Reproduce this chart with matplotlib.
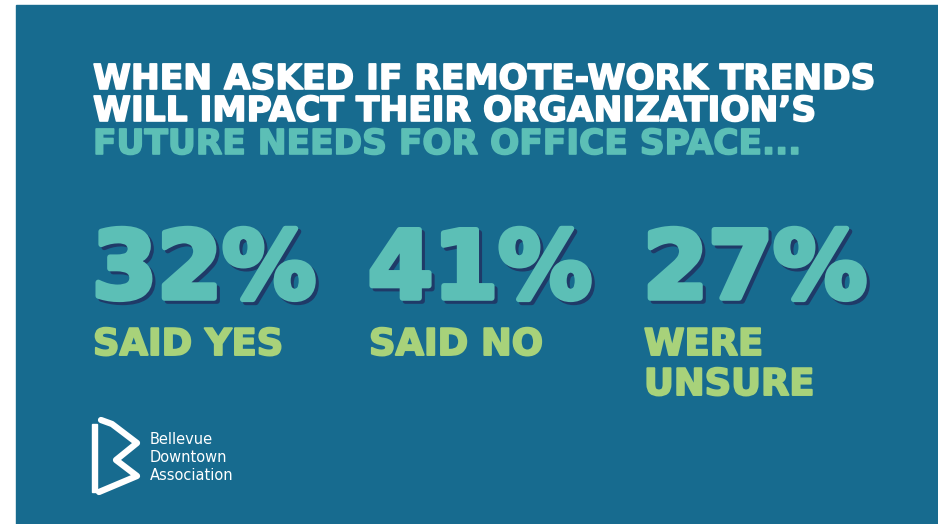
import matplotlib.pyplot as plt
import matplotlib.patheffects as pe
from matplotlib.patches import Rectangle

# chart content
title_lines = ["WHEN ASKED IF REMOTE-WORK TRENDS",
               "WILL IMPACT THEIR ORGANIZATION\u2019S",
               "FUTURE NEEDS FOR OFFICE SPACE..."]
title_colors = ["white", "white", "#5cbfb6"]
shares = [32, 41, 27]
answers = ["SAID YES", "SAID NO", "WERE\nUNSURE"]
logo_words = ["Bellevue", "Downtown", "Association"]

bg = "#176b8f"
teal = "#5cbfb6"
green = "#a8d27a"
shadow = "#1f3a68"
font = "DejaVu Sans"

fig = plt.figure(figsize=(9.38, 5.24), dpi=100)
ax = fig.add_axes([0, 0, 1, 1])
ax.set_xlim(0, 938)
ax.set_ylim(524, 0)
ax.axis("off")
ax.add_patch(Rectangle((16, 5), 922, 519, color=bg, zorder=0))
renderer = fig.canvas.get_renderer()


def fit_size(s, width, size=20):
    t = ax.text(0, 0, s, fontsize=size, fontfamily=font, fontweight="bold")
    w = t.get_window_extent(renderer).width
    t.remove()
    return size * width / w


def heavy(col, lw):
    return [pe.Stroke(linewidth=lw, foreground=col, joinstyle="round"),
            pe.Normal()]


# title, three lines
tsize = fit_size(title_lines[0], 780)
title_base = [89, 121, 154]
for line, col, y in zip(title_lines, title_colors, title_base):
    ax.text(93, y, line, color=col, fontsize=tsize, fontfamily=font,
            fontweight="bold", va="baseline", ha="left",
            path_effects=heavy(col, 1.2))

# big percentages with a drop shadow
nsize = fit_size("32%", 224)
lsize = fit_size("SAID YES", 190)
col_x = [92, 368, 643]
for x, v, lab in zip(col_x, shares, answers):
    ax.text(x, 298, f"{v}%", color=teal, fontsize=nsize, fontfamily=font,
            fontweight="bold", va="baseline", ha="left",
            path_effects=[pe.Stroke(linewidth=4, foreground=shadow,
                                    joinstyle="round", offset=(2.2, -2.2)),
                          pe.withSimplePatchShadow(offset=(2.2, -2.2),
                                                   shadow_rgbFace=shadow,
                                                   alpha=1.0),
                          pe.Stroke(linewidth=4, foreground=teal,
                                    joinstyle="round"),
                          pe.Normal()])
    for j, part in enumerate(lab.split("\n")):
        ax.text(x + 1, 355 + j * 40, part, color=green, fontsize=lsize,
                fontfamily=font, fontweight="bold", va="baseline",
                ha="left", path_effects=heavy(green, 1.4))

# logo mark (rough ribbon "B")
ax.add_patch(Rectangle((92, 424), 5, 68, color="white", zorder=2))
ax.plot([101, 112, 137, 116, 137, 99],
        [420, 424, 443, 460, 476, 492],
        color="white", lw=4.5, solid_joinstyle="round",
        solid_capstyle="round", zorder=2)
for i, w in enumerate(logo_words):
    ax.text(150, 440 + i * 18, w, color="white", fontsize=10.5,
            fontfamily="DejaVu Sans", va="center", ha="left")

fig.savefig("out.png", dpi=100, facecolor="white")
